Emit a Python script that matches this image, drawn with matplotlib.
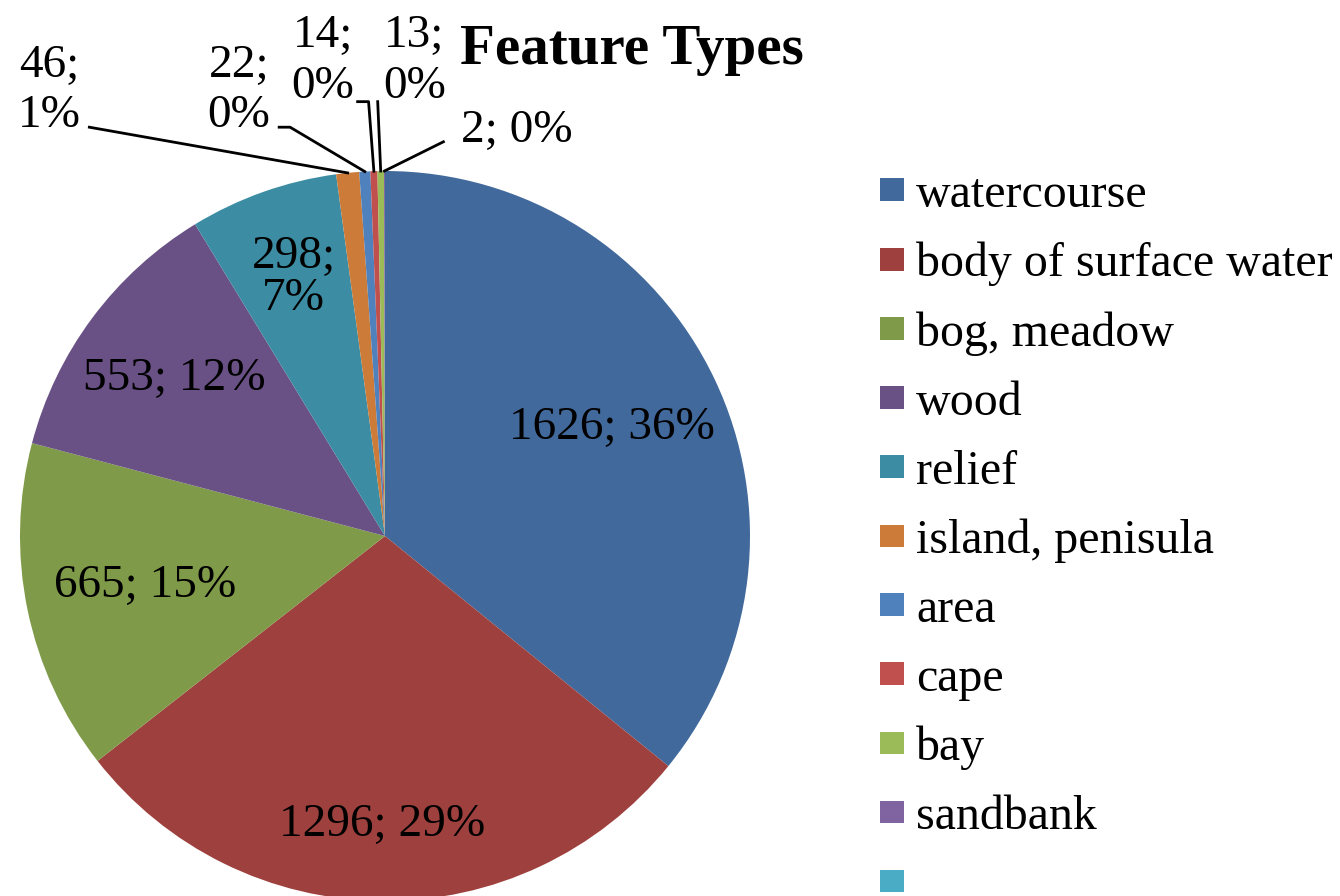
import numpy as np
import matplotlib.pyplot as plt
from matplotlib.patches import Patch

categories = ["watercourse", "body of surface water", "bog, meadow", "wood", "relief",
              "island, penisula", "area", "cape", "bay", "sandbank", ""]
counts = [1626, 1296, 665, 553, 298, 46, 22, 14, 13, 2, 0]
colors = ["#41699B", "#9E413E", "#7F9A48", "#695185", "#3C8DA3",
          "#CC7B38", "#4F81BD", "#C0504D", "#9BBB59", "#8064A2", "#4BACC6"]

# label placement: inside labels at a fraction of the radius
inner_idx = [0, 1, 2, 3, 4]
inner_r = [0.69, 0.79, 0.67, 0.72, 0.75]
# outside labels (index, text position, elbow point)
outer_idx = [5, 6, 7, 8, 9]
outer_pos = [(-0.92, 1.22), (-0.40, 1.22), (-0.17, 1.30), (0.08, 1.30), (0.36, 1.11)]
outer_elbow = [(-0.81, 1.12), (-0.26, 1.12), (-0.045, 1.19), (-0.02, 1.19), (0.16, 1.08)]
outer_start = [(-0.81, 1.12), (-0.29, 1.12), (-0.075, 1.19), (-0.02, 1.19), (0.16, 1.08)]
outer_two_line = [True, True, True, True, False]

plt.rcParams['font.family'] = ['Liberation Serif', 'DejaVu Serif']

fig = plt.figure(figsize=(13.4, 8.96), dpi=100)
ax = fig.add_axes([20 / 1340, (896 - 901) / 896, 730 / 1340, 730 / 896])

wedges, _ = ax.pie(counts, colors=colors, startangle=90, counterclock=False,
                   radius=1, wedgeprops=dict(linewidth=0), frame=True)
ax.set_xlim(-1, 1)
ax.set_ylim(-1, 1)
ax.axis('off')

total = sum(counts)
pct = [round(c / total * 100) for c in counts]

fs = 34
for i, r in zip(inner_idx, inner_r):
    w = wedges[i]
    mid = np.deg2rad((w.theta1 + w.theta2) / 2)
    if i == 4:
        txt = f"{counts[i]};\n{pct[i]}%"
    else:
        txt = f"{counts[i]}; {pct[i]}%"
    ax.text(r * np.cos(mid), r * np.sin(mid), txt, ha='center', va='center',
            fontsize=fs, linespacing=1.0)

for i, pos, el, st, two in zip(outer_idx, outer_pos, outer_elbow, outer_start, outer_two_line):
    w = wedges[i]
    mid = np.deg2rad((w.theta1 + w.theta2) / 2)
    tip = (np.cos(mid), np.sin(mid))
    txt = f"{counts[i]};\n{pct[i]}%" if two else f"{counts[i]}; {pct[i]}%"
    ax.text(pos[0], pos[1], txt, ha='center', va='center', fontsize=fs,
            linespacing=1.25, clip_on=False)
    ax.plot([st[0], el[0], tip[0]], [st[1], el[1], tip[1]], color='black',
            lw=2, clip_on=False)

fig.text(460 / 1340, 1 - 50 / 896, "Feature Types", fontsize=41, fontweight='bold',
         ha='left', va='center')

handles = [Patch(facecolor=c, edgecolor='none') for c in colors]
fig.legend(handles, categories, loc='upper left', bbox_to_anchor=(880 / 1340, 1 - 173 / 896),
           frameon=False, fontsize=34.5, handlelength=0.5, handleheight=0.35,
           handletextpad=0.25, labelspacing=0.52, borderaxespad=0, borderpad=0)

fig.savefig("out.png", dpi=100)
